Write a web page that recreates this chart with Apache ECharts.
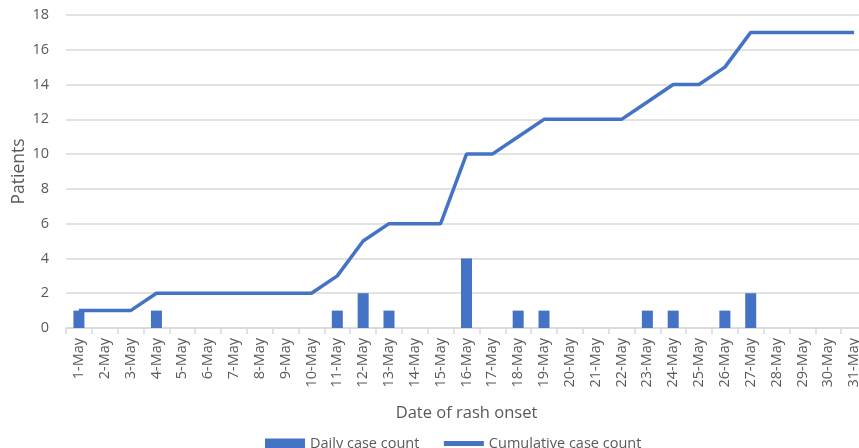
<!DOCTYPE html>
<html>
<head>
<meta charset="utf-8">
<script src="https://cdn.jsdelivr.net/npm/echarts@6/dist/echarts.min.js"></script>
<style>
  html, body { margin: 0; padding: 0; background: #fff; }
  #main { width: 859px; height: 448px; }
</style>
</head>
<body>
<div id="main"></div>
<script>
// 日期
var days = [];
for (var d = 1; d <= 31; d++) days.push(d + '-May');

// 每日病例数
var dailyCount = [1, 0, 0, 1, 0, 0, 0, 0, 0, 0, 1, 2, 1, 0, 0, 4, 0, 1, 1, 0, 0, 0, 1, 1, 0, 1, 2, 0, 0, 0, 0];
// 累计病例数
var cumulativeCount = [1, 1, 1, 2, 2, 2, 2, 2, 2, 2, 3, 5, 6, 6, 6, 10, 10, 11, 12, 12, 12, 12, 13, 14, 14, 15, 17, 17, 17, 17, 17];

var yTicks = { min: 0, max: 18, interval: 2 };

var blue = '#4472C4';
var grey = '#595959';
var font = 'Open Sans, Liberation Sans, sans-serif';

var myChart = echarts.init(document.getElementById('main'));
myChart.setOption({
  animation: false,
  textStyle: { fontFamily: font },
  grid: { left: 66, right: -8, top: 15, bottom: 120, containLabel: false, outerBoundsMode: 'none' },
  legend: {
    left: 260,
    top: 431,
    itemGap: 22,
    itemWidth: 40,
    itemHeight: 10,
    textStyle: { fontSize: 14.5, color: grey, fontFamily: font },
    data: [
      { name: 'Daily case count', icon: 'rect' },
      { name: 'Cumulative case count', itemStyle: { opacity: 0 }, lineStyle: { width: 5 } }
    ]
  },
  xAxis: {
    type: 'category',
    data: days,
    name: 'Date of rash onset',
    nameLocation: 'middle',
    nameGap: 77,
    nameMoveOverlap: false,
    nameTextStyle: { fontSize: 16.5, color: grey, verticalAlign: 'top' },
    axisLine: { lineStyle: { color: '#d9d9d9', width: 1.5 } },
    axisTick: { show: true, alignWithLabel: false, length: 6, lineStyle: { color: '#d9d9d9', width: 1.5 } },
    axisLabel: { rotate: 90, interval: 0, fontSize: 14.5, color: grey, margin: 10 }
  },
  yAxis: {
    type: 'value',
    min: yTicks.min,
    max: yTicks.max,
    interval: yTicks.interval,
    name: 'Patients',
    nameLocation: 'middle',
    nameGap: 38,
    nameMoveOverlap: false,
    nameTextStyle: { fontSize: 17.5, color: grey },
    axisLine: { show: false },
    axisTick: { show: false },
    axisLabel: { fontSize: 14.5, color: grey, margin: 17 },
    splitLine: { lineStyle: { color: '#d9d9d9', width: 1.5 } }
  },
  series: [
    {
      name: 'Daily case count',
      type: 'bar',
      data: dailyCount,
      barWidth: 11,
      itemStyle: { color: blue }
    },
    {
      name: 'Cumulative case count',
      type: 'line',
      data: cumulativeCount,
      symbol: 'none',
      lineStyle: { color: blue, width: 3.5 },
      itemStyle: { color: blue }
    }
  ]
});
</script>
</body>
</html>
